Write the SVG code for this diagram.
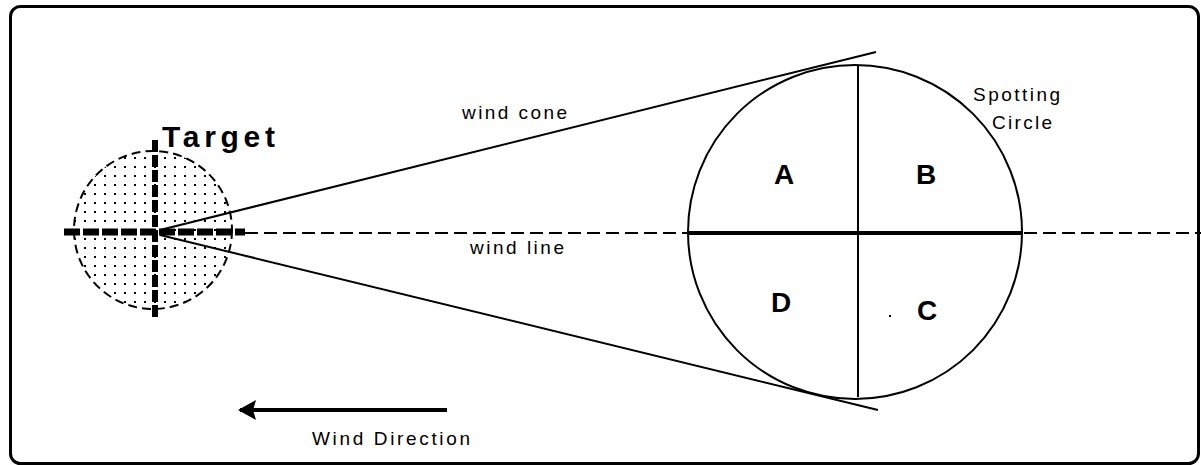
<svg xmlns="http://www.w3.org/2000/svg" width="1201" height="465" viewBox="0 0 1201 465">
<style>
.lbl{font-family:"Liberation Sans",Arial,sans-serif;fill:#000}
.small{font-size:19px}
.big{font-size:30px;font-weight:bold}
.quad{font-size:28px;font-weight:bold;text-anchor:middle}
.thin{stroke:#000;stroke-width:2;fill:none}
</style>
<defs>
<pattern id="dots" x="0" y="0" width="10" height="9" patternUnits="userSpaceOnUse">
<rect x="4" y="4" width="2" height="2" fill="#000"/>
</pattern>
<marker id="ah" viewBox="0 0 18 20" refX="16" refY="10" markerWidth="18" markerHeight="20" markerUnits="userSpaceOnUse" orient="auto">
<polygon points="18,10 0,0 3,10 0,20" fill="#000"/>
</marker>
</defs>
<rect id="frame" x="10.5" y="6.5" width="1188" height="457" rx="10" fill="#fff" stroke="#000" stroke-width="3"/>

<g id="target">
<circle cx="153" cy="230" r="79" fill="url(#dots)" stroke="#000" stroke-width="2" stroke-dasharray="9 5"/>
<line x1="155" y1="140" x2="155" y2="320" stroke="#000" stroke-width="6" stroke-dasharray="12 3"/>
<line x1="64" y1="232" x2="245" y2="232" stroke="#000" stroke-width="7" stroke-dasharray="16 3"/>
<text class="lbl big" x="162" y="147" textLength="113" lengthAdjust="spacing">Target</text>
</g>

<g id="connectors">
<line class="thin" x1="245" y1="233" x2="1201" y2="233" stroke-dasharray="13 6"/>
<line class="thin" x1="160" y1="230" x2="876" y2="52"/>
<line class="thin" x1="160" y1="235" x2="878" y2="410"/>
<line x1="447" y1="410" x2="240" y2="410" stroke="#000" stroke-width="4" marker-end="url(#ah)"/>
</g>

<g id="spotting-circle">
<circle class="thin" cx="855" cy="232" r="167"/>
<line x1="688" y1="233" x2="1022" y2="233" stroke="#000" stroke-width="4"/>
<line class="thin" x1="858" y1="66" x2="858" y2="397"/>
<text class="lbl quad" x="784" y="184">A</text>
<text class="lbl quad" x="926" y="184">B</text>
<text class="lbl quad" x="781" y="312">D</text>
<text class="lbl quad" x="927" y="320">C</text>
<rect x="889" y="315" width="2" height="2" fill="#000"/>
</g>

<g id="labels">
<text class="lbl small" x="462" y="119" textLength="105" lengthAdjust="spacing">wind cone</text>
<text class="lbl small" x="470" y="254" textLength="94" lengthAdjust="spacing">wind line</text>
<text class="lbl small" x="973" y="101" textLength="87" lengthAdjust="spacing">Spotting</text>
<text class="lbl small" x="992" y="129" textLength="60" lengthAdjust="spacing">Circle</text>
<text class="lbl small" x="312" y="445" textLength="158" lengthAdjust="spacing">Wind Direction</text>
</g>
</svg>
